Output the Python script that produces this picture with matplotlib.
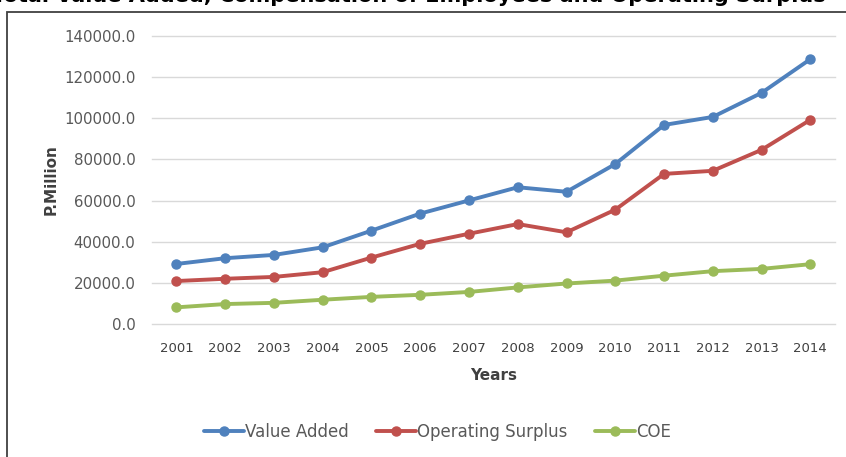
import matplotlib.pyplot as plt
from matplotlib.patches import Rectangle

years = ["2001", "2002", "2003", "2004", "2005", "2006", "2007",
         "2008", "2009", "2010", "2011", "2012", "2013", "2014"]
value_added = [29200, 32000, 33600, 37300, 45400, 53700, 60100,
               66500, 64300, 77800, 96800, 100700, 112400, 128800]
operating_surplus = [20900, 22000, 22900, 25200, 32300, 39000, 43900,
                     48600, 44600, 55600, 73000, 74500, 84700, 99300]
coe = [8100, 9700, 10300, 11800, 13200, 14200, 15600,
       17800, 19700, 21100, 23500, 25700, 26800, 29100]
yticks = [0, 20000, 40000, 60000, 80000, 100000, 120000, 140000]

plt.rcParams['font.family'] = ['DejaVu Sans']

fig = plt.figure(figsize=(8.46, 4.57), dpi=100)
ax = fig.add_axes([0.1797, 0.291, 0.807, 0.630])

x = list(range(len(years)))
series = [("Value Added", value_added, "#4F81BD"),
          ("Operating Surplus", operating_surplus, "#C0504D"),
          ("COE", coe, "#9BBB59")]
for name, vals, col in series:
    ax.plot(x, vals, color=col, lw=2.8, marker='o', markersize=6.5,
            label=name, solid_capstyle='round')

ax.set_xlim(-0.5, len(years) - 0.5)
ax.set_ylim(0, 140000)
ax.set_yticks(yticks)
ax.set_yticklabels([f"{v:.1f}" for v in yticks], color="#595959", fontsize=10.8)
ax.set_xticks(x)
ax.set_xticklabels(years, color="#404040", fontsize=9.5)
ax.tick_params(length=0)
ax.tick_params(axis='y', pad=12)
ax.tick_params(axis='x', pad=13)
ax.grid(axis='y', color="#D9D9D9", lw=1)
for gl in ax.get_ygridlines():
    gl.set_clip_on(False)
ax.set_axisbelow(True)
for s in ax.spines.values():
    s.set_visible(False)

ax.set_xlabel("Years", fontsize=11, fontweight='bold', color="#404040", labelpad=9)
ax.set_ylabel("P.Million", fontsize=11, fontweight='bold', color="#404040", labelpad=4)

ax.legend(loc='center', bbox_to_anchor=(0.517, 0.055), bbox_transform=fig.transFigure,
          ncol=3, frameon=False, fontsize=12, handlelength=2.4,
          columnspacing=1.6, handletextpad=0.1, labelcolor="#595959")

# outer border of the chart area
fig.patches.append(Rectangle((7 / 846, -0.1), 1.2, 1 - 12 / 457 + 0.1,
                             transform=fig.transFigure, fill=False,
                             ec="#404040", lw=1.3, clip_on=False))
fig.text(-0.01, 1 - 2 / 457, "Total Value Added, Compensation of Employees and Operating Surplus",
         fontsize=15, fontweight='bold', color="black", va='baseline', ha='left')

fig.savefig("out.png", dpi=100)
